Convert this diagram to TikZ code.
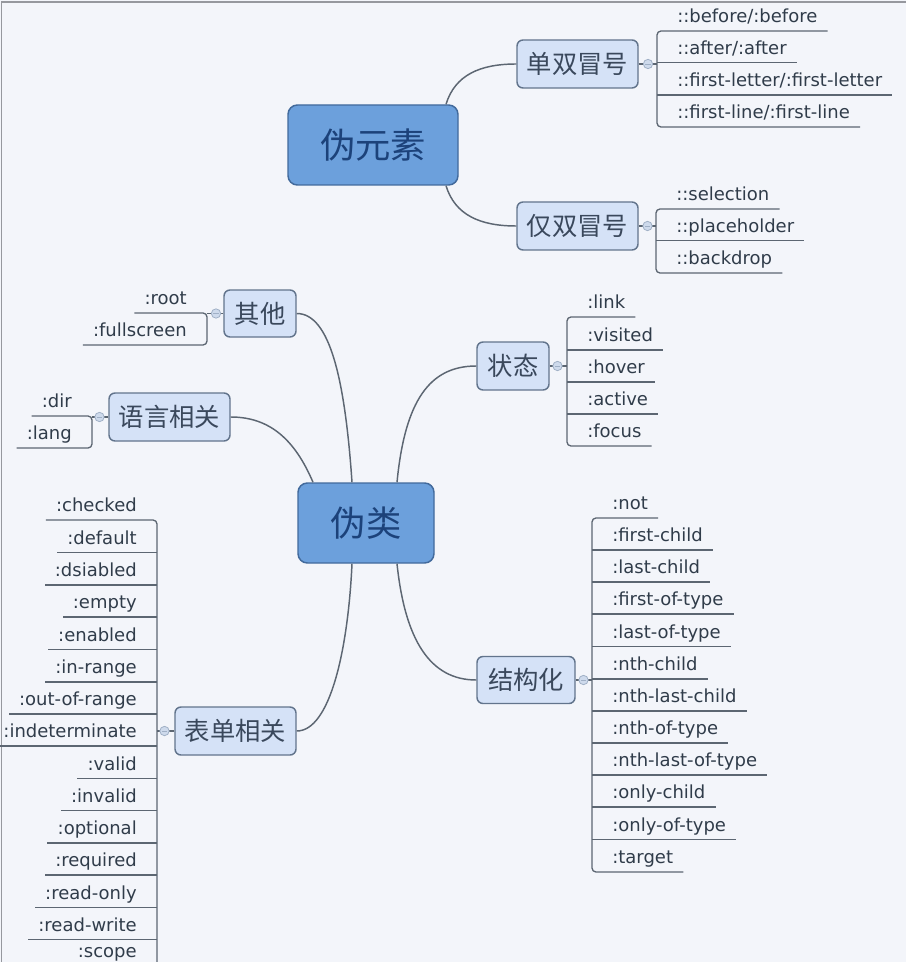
\documentclass[tikz,border=0pt]{standalone}
\usepackage{fontspec}
\setmainfont{DejaVu Sans}
\newfontfamily\cjk{Noto Sans CJK SC}
\definecolor{bgc}{RGB}{243,245,250}
\definecolor{framec}{RGB}{150,152,158}
\definecolor{linec}{RGB}{92,102,114}
\definecolor{rootf}{RGB}{108,160,220}
\definecolor{rootd}{RGB}{66,106,156}
\definecolor{roott}{RGB}{28,66,122}
\definecolor{subf}{RGB}{213,226,247}
\definecolor{subd}{RGB}{98,116,140}
\definecolor{subt}{RGB}{58,72,92}
\definecolor{leaft}{RGB}{48,60,74}
\definecolor{knobf}{RGB}{206,218,236}
\definecolor{knobd}{RGB}{160,176,198}
\tikzset{
  ln/.style={draw=linec, line width=1.1pt},
  uln/.style={draw=linec, line width=1pt},
  rootbox/.style={draw=rootd, fill=rootf, line width=1.1pt, rounded corners=7pt,
    text=roott, font=\cjk\fontsize{26.5}{30}\selectfont, inner sep=0pt,
    minimum height=60pt},
  subbox/.style={draw=subd, fill=subf, line width=1.1pt, rounded corners=4.5pt,
    text=subt, font=\cjk\fontsize{19}{22}\selectfont, inner sep=0pt,
    minimum height=36pt},
  leaf/.style={text=leaft, font=\fontsize{13.5}{16}\selectfont,
    inner xsep=7.5pt, inner ysep=0pt, text depth=6pt},
  knob/.style={circle, draw=knobd, fill=knobf, line width=0.6pt,
    minimum size=7pt, inner sep=0pt,
    path picture={\draw[knobd,line width=0.6pt]
      ([xshift=1.6pt]path picture bounding box.west) --
      ([xshift=-1.6pt]path picture bounding box.east);}}
}
\newcommand\Rleaf[4]{\node[leaf,anchor=south west] (#1) at (#2+10,#3) {#4};}
\newcommand\Lleaf[4]{\node[leaf,anchor=south east] (#1) at (#2-10,#3) {#4};}
\newcommand\Rul[1]{\draw[uln] ([xshift=-7.5pt]#1.south west) -- (#1.south east);}
\newcommand\Lul[1]{\draw[uln] ([xshift=7.5pt]#1.south east) -- (#1.south west);}
\newcommand\Rspine[2]{\draw[uln,rounded corners=3pt] (#1.south east) --
  ([xshift=-7.5pt]#1.south west) -- ([xshift=-7.5pt]#2.south west) -- (#2.south east);}
\newcommand\Lspine[2]{\draw[uln,rounded corners=3pt] (#1.south west) --
  ([xshift=7.5pt]#1.south east) -- ([xshift=7.5pt]#2.south east) -- (#2.south west);}
\begin{document}
\begin{tikzpicture}[x=0.75pt,y=-0.75pt]
\useasboundingbox (0,0) rectangle (906,962);
\clip (0,0) rectangle (906,962);
\fill[bgc] (0,0) rectangle (906,962);
\draw[framec,line width=1.2pt] (1.5,962) -- (1.5,2) -- (906,2);

% ---------- main topics ----------
\node[rootbox, minimum width=127.5pt] (ye) at (373,145) {伪元素};
\node[rootbox, minimum width=102pt] (wl) at (366,523) {伪类};

% ---------- sub topics ----------
\node[subbox, minimum width=90.75pt] (dsm) at (577.5,64) {单双冒号};
\node[subbox, minimum width=90.75pt] (jsm) at (577.5,226) {仅双冒号};
\node[subbox, minimum width=54pt, minimum height=35.25pt] (qt) at (260,313.5) {其他};
\node[subbox, minimum width=90.75pt] (yy) at (169.5,417) {语言相关};
\node[subbox, minimum width=54pt] (zt) at (513,366) {状态};
\node[subbox, minimum width=90.75pt] (bd) at (235.5,731) {表单相关};
\node[subbox, minimum width=73.5pt, minimum height=35.25pt] (jg) at (526,680) {结构化};

% ---------- curved connectors ----------
\draw[ln] ([xshift=54.75pt]ye.north) .. controls (455,75) and (480,64) .. (dsm.west);
\draw[ln] ([xshift=54.75pt]ye.south) .. controls (455,215) and (480,226) .. (jsm.west);
\draw[ln] ([xshift=-10.5pt]wl.north) .. controls (345,380) and (330,313.5) .. (qt.east);
\draw[ln] ([xshift=-39.75pt]wl.north) .. controls (295,440) and (270,417) .. (yy.east);
\draw[ln] ([xshift=23.25pt]wl.north) .. controls (405,400) and (430,366) .. (zt.west);
\draw[ln] ([xshift=-10.5pt]wl.south) .. controls (348,650) and (330,731) .. (bd.east);
\draw[ln] ([xshift=23.25pt]wl.south) .. controls (405,640) and (430,680) .. (jg.west);

% ---------- 单双冒号 ----------
\Rleaf{d1}{657}{31}{::before/:before}
\Rleaf{d2}{657}{62.5}{::after/:after}
\Rleaf{d3}{657}{95}{::first-letter/:first-letter}
\Rleaf{d4}{657}{127}{::first-line/:first-line}
\Rul{d2}\Rul{d3}\Rspine{d1}{d4}
\coordinate (dsmS) at (657,64);
\draw[ln] (dsm.east) -- (dsmS);
\node[knob] (dsmK) at (648,64) {};

% ---------- 仅双冒号 ----------
\Rleaf{j1}{656}{209}{::selection}
\Rleaf{j2}{656}{240.5}{::placeholder}
\Rleaf{j3}{656}{273}{::backdrop}
\Rul{j2}\Rspine{j1}{j3}
\coordinate (jsmS) at (656,226);
\draw[ln] (jsm.east) -- (jsmS);
\node[knob] (jsmK) at (647.5,226) {};

% ---------- 其他 ----------
\Lleaf{q1}{207}{313}{:root}
\Lleaf{q2}{207}{345}{:fullscreen}
\Lspine{q1}{q2}
\coordinate (qtS) at (207,313.5);
\draw[ln] (qt.west) -- (qtS);
\node[knob] (qtK) at (216,313.5) {};

% ---------- 语言相关 ----------
\Lleaf{y1}{92}{416}{:dir}
\Lleaf{y2}{92}{448}{:lang}
\Lspine{y1}{y2}
\coordinate (yyS) at (92,417);
\draw[ln] (yy.west) -- (yyS);
\node[knob] (yyK) at (99.5,417) {};

% ---------- 状态 ----------
\Rleaf{z1}{567}{317}{:link}
\Rleaf{z2}{567}{350}{:visited}
\Rleaf{z3}{567}{382}{:hover}
\Rleaf{z4}{567}{414}{:active}
\Rleaf{z5}{567}{446}{:focus}
\Rul{z2}\Rul{z3}\Rul{z4}\Rspine{z1}{z5}
\coordinate (ztS) at (567,366);
\draw[ln] (zt.east) -- (ztS);
\node[knob] (ztK) at (557.5,366) {};

% ---------- 表单相关 ----------
\Lleaf{b1}{157}{520}{:checked}
\Lleaf{b2}{157}{552.5}{:default}
\Lleaf{b3}{157}{585}{:dsiabled}
\Lleaf{b4}{157}{617}{:empty}
\Lleaf{b5}{157}{649.5}{:enabled}
\Lleaf{b6}{157}{682}{:in-range}
\Lleaf{b7}{157}{714}{:out-of-range}
\Lleaf{b8}{157}{746}{:indeterminate}
\Lleaf{b9}{157}{778.5}{:valid}
\Lleaf{b10}{157}{810.5}{:invalid}
\Lleaf{b11}{157}{843}{:optional}
\Lleaf{b12}{157}{875}{:required}
\Lleaf{b13}{157}{907.5}{:read-only}
\Lleaf{b14}{157}{939.5}{:read-write}
\Lleaf{b15}{157}{966}{:scope}
\Lul{b2}\Lul{b3}\Lul{b4}\Lul{b5}\Lul{b6}\Lul{b7}\Lul{b8}
\Lul{b9}\Lul{b10}\Lul{b11}\Lul{b12}\Lul{b13}\Lul{b14}
\Lspine{b1}{b15}
\coordinate (bdS) at (157,731);
\draw[ln] (bd.west) -- (bdS);
\node[knob] (bdK) at (164.5,731) {};

% ---------- 结构化 ----------
\Rleaf{g1}{592}{518}{:not}
\Rleaf{g2}{592}{550}{:first-child}
\Rleaf{g3}{592}{582}{:last-child}
\Rleaf{g4}{592}{614}{:first-of-type}
\Rleaf{g5}{592}{646.5}{:last-of-type}
\Rleaf{g6}{592}{679}{:nth-child}
\Rleaf{g7}{592}{711}{:nth-last-child}
\Rleaf{g8}{592}{743}{:nth-of-type}
\Rleaf{g9}{592}{775}{:nth-last-of-type}
\Rleaf{g10}{592}{807}{:only-child}
\Rleaf{g11}{592}{839.5}{:only-of-type}
\Rleaf{g12}{592}{872}{:target}
\Rul{g2}\Rul{g3}\Rul{g4}\Rul{g5}\Rul{g6}\Rul{g7}\Rul{g8}
\Rul{g9}\Rul{g10}\Rul{g11}\Rspine{g1}{g12}
\coordinate (jgS) at (592,680);
\draw[ln] (jg.east) -- (jgS);
\node[knob] (jgK) at (583.5,680) {};
\end{tikzpicture}
\end{document}
